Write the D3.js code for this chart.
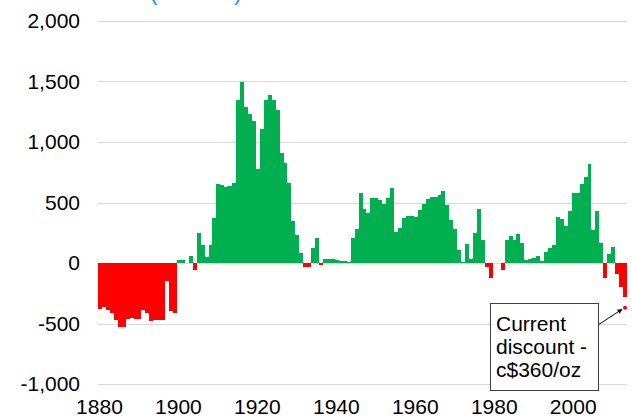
<!DOCTYPE html>
<html>
<head>
<meta charset="utf-8">
<script src="https://cdn.jsdelivr.net/npm/d3@7.9.0/dist/d3.min.js"></script>
<style>
  html, body { margin: 0; padding: 0; background: #fff; }
  svg { display: block; font-family: 'Liberation Sans', Arial, sans-serif; }
</style>
</head>
<body>
<svg id="chart" width="632" height="418"></svg>
<script>
const firstYear = 1880;
const lastYear = 2013;

// yearly gold premium / discount, 1880..2013
const discount = [
  -380, -360, -390, -415, -475, -530, -530, -460, -455, -465, // 1880s
  -465, -390, -415, -480, -470, -470, -470, -148, -400, -415, // 1890s
  25, 25, 0, 60, -55, 245, 150, 50, 150, 370,                 // 1900s
  652, 645, 630, 640, 663, 1350, 1496, 1290, 1235, 1175,      // 1910s
  773, 1111, 1350, 1386, 1350, 1268, 905, 828, 663, 349,      // 1920s
  235, 85, -30, -35, 121, 209, -15, 30, 35, 32,               // 1930s
  28, 20, 15, 5, 205, 278, 580, 443, 410, 534,                // 1940s
  534, 520, 487, 534, 616, 258, 290, 370, 388, 385,           // 1950s
  383, 434, 490, 528, 545, 545, 563, 596, 480, 355,           // 1960s
  278, 107, 10, 157, 30, 245, 443, 190, -35, -125,            // 1970s
  0, 0, -55, 193, 223, 188, 240, 163, 22, 35,                 // 1980s
  45, 57, 15, 91, 127, 146, 377, 360, 305, 432,               // 1990s
  575, 575, 657, 707, 822, 272, 432, 163, -120, 78,           // 2000s
  135, -88, -195, -278                                        // 2010s
];

const yTicks = [-1000, -500, 0, 500, 1000, 1500, 2000];
const xTicks = [1880, 1900, 1920, 1940, 1960, 1980, 2000];
const currentDiscount = -370;
const noteLines = ['Current', 'discount -', 'c$360/oz'];

const years = d3.range(firstYear, lastYear + 1);
const data = years.map((year, i) => ({ year, value: discount[i] }));

const svg = d3.select('#chart');

const x = d3.scaleBand().domain(years).range([98, 627]).paddingInner(0).paddingOuter(0);
const y = d3.scaleLinear().domain([-1000, 2000]).range([384, 21]);
const fmt = d3.formatLocale({ decimal: '.', thousands: ',', grouping: [3], currency: ['$', ''], minus: '-' }).format(',');

// cut-off title at top
svg.append('text')
  .attr('x', 150)
  .attr('y', -0.5)
  .attr('font-size', 22)
  .attr('fill', '#0a9ad6')
  .text('(nominal)');

// gridlines
svg.append('g')
  .selectAll('line')
  .data(yTicks)
  .join('line')
  .attr('x1', 98)
  .attr('x2', 627)
  .attr('y1', (d) => Math.round(y(d)) + 0.5)
  .attr('y2', (d) => Math.round(y(d)) + 0.5)
  .attr('stroke', '#d9d9d9')
  .attr('stroke-width', 1);

// bars
const left = (d) => Math.round(x(d.year));
const right = (d) => Math.round(x(d.year) + x.bandwidth());
svg.append('g')
  .attr('shape-rendering', 'crispEdges')
  .selectAll('rect')
  .data(data)
  .join('rect')
  .attr('x', left)
  .attr('width', (d) => right(d) - left(d))
  .attr('y', (d) => y(Math.max(0, d.value)))
  .attr('height', (d) => Math.abs(y(d.value) - y(0)))
  .attr('fill', (d) => (d.value >= 0 ? '#00b050' : '#ff0000'));

// y labels
svg.append('g')
  .selectAll('text')
  .data(yTicks)
  .join('text')
  .attr('x', 80)
  .attr('y', (d) => y(d))
  .attr('dy', '0.35em')
  .attr('text-anchor', 'end')
  .attr('font-size', 21)
  .attr('fill', '#000')
  .text((d) => fmt(d));

// x labels
svg.append('g')
  .selectAll('text')
  .data(xTicks)
  .join('text')
  .attr('x', (d) => x(d) + x.bandwidth() / 2 - 0.5)
  .attr('y', 414)
  .attr('text-anchor', 'middle')
  .attr('font-size', 21)
  .attr('fill', '#000')
  .text((d) => d);

// annotation
const dotX = x(lastYear) + x.bandwidth() / 2;
const dotY = y(currentDiscount);

svg.append('defs').append('marker')
  .attr('id', 'arrow')
  .attr('viewBox', '0 0 10 10')
  .attr('refX', 9)
  .attr('refY', 5)
  .attr('markerWidth', 5)
  .attr('markerHeight', 5)
  .attr('orient', 'auto')
  .append('path')
  .attr('d', 'M0,0L10,5L0,10z')
  .attr('fill', '#000');

svg.append('line')
  .attr('x1', 598)
  .attr('y1', 325)
  .attr('x2', dotX - 3)
  .attr('y2', dotY + 1.5)
  .attr('stroke', '#000')
  .attr('stroke-width', 1)
  .attr('marker-end', 'url(#arrow)');

svg.append('circle')
  .attr('cx', dotX)
  .attr('cy', dotY)
  .attr('r', 2)
  .attr('fill', '#ff0000');

svg.append('rect')
  .attr('x', 490.5)
  .attr('y', 303.5)
  .attr('width', 108)
  .attr('height', 87)
  .attr('fill', '#fff')
  .attr('stroke', '#404040')
  .attr('stroke-width', 1);

svg.append('g')
  .selectAll('text')
  .data(noteLines)
  .join('text')
  .attr('x', 496)
  .attr('y', (d, i) => 331 + i * 23)
  .attr('font-size', 21)
  .attr('fill', '#000')
  .text((d) => d);
</script>
</body>
</html>
